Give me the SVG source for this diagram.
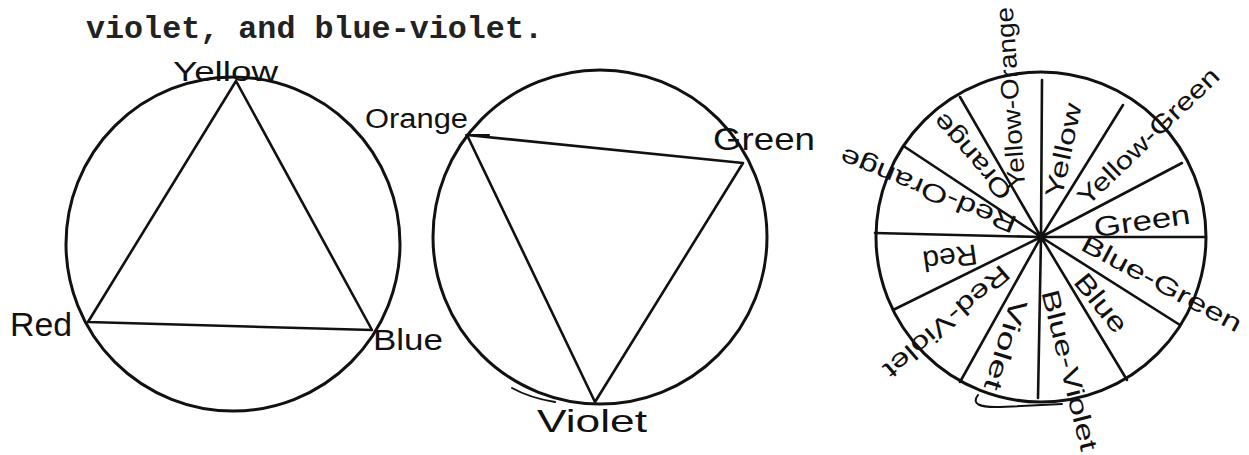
<svg xmlns="http://www.w3.org/2000/svg" width="1249" height="455" viewBox="0 0 1249 455">
<style>
.ln{fill:none;stroke:#111;stroke-width:2.6;stroke-linecap:round;stroke-linejoin:round}
.cir{fill:none;stroke:#111;stroke-width:3}
.hw{font-family:"Liberation Sans","DejaVu Sans",sans-serif;fill:#111;font-size:28px}
.wl{font-family:"Liberation Sans","DejaVu Sans",sans-serif;fill:#111;font-size:25px;text-anchor:middle;dominant-baseline:central}
.tt{font-family:"Liberation Mono","Courier New",monospace;fill:#222;font-size:31.5px;font-weight:bold}
</style>
<rect width="1249" height="455" fill="#fff"/>
<text class="tt" x="86" y="38" textLength="457" lengthAdjust="spacingAndGlyphs">violet, and blue-violet.</text>

<g id="primary-triad">
  <circle class="cir" cx="233" cy="244" r="167"/>
  <path class="ln" d="M236 81 L88 322 L372 330 Z"/>
  <text class="hw" x="173" y="81" textLength="105" lengthAdjust="spacingAndGlyphs">Yellow</text>
  <text class="hw" x="10" y="336" font-size="34" textLength="62" lengthAdjust="spacingAndGlyphs" style="font-size:34px">Red</text>
  <text class="hw" x="373" y="350" textLength="70" lengthAdjust="spacingAndGlyphs" style="font-size:30px">Blue</text>
</g>

<g id="secondary-triad">
  <circle class="cir" cx="600" cy="237" r="167"/>
  <path class="ln" d="M467 135 L743 163 L595 402 Z"/>
  <text class="hw" x="365" y="128" textLength="103" lengthAdjust="spacingAndGlyphs" style="font-size:27px">Orange</text>
  <path class="ln" d="M466 135 L489 135" style="stroke-width:2"/>
  <text class="hw" x="713" y="150" textLength="102" lengthAdjust="spacingAndGlyphs" style="font-size:32px">Green</text>
  <text class="hw" x="537" y="432" textLength="110" lengthAdjust="spacingAndGlyphs" style="font-size:32px">Violet</text>
  <path class="ln" d="M512 388 Q530 398 555 402" style="stroke-width:2"/>
</g>

<g id="color-wheel">
  <circle class="cir" cx="1041" cy="237" r="165"/>
  <path class="ln" d="M978 395 Q968 408 1000 407 L1062 404" style="stroke-width:2"/>
  <g id="spokes">
    <path class="ln" d="M1041 237 L1042 80 M1041 237 L1123 105 M1041 237 L1182 163 M1041 237 L1205 237 M1041 237 L1180 325 M1041 237 L1127 380 M1041 237 L1038 398 M1041 237 L960 382 M1041 237 L893 310 M1041 237 L875 233 M1041 237 L905 147 M1041 237 L960 97"/>
    <circle cx="1041" cy="237" r="4" fill="#111"/>
  </g>
  <text class="wl" transform="translate(1063 150) rotate(-78)" textLength="96" lengthAdjust="spacingAndGlyphs">Yellow</text>
  <text class="wl" transform="translate(1148 136) rotate(-44)" textLength="186" lengthAdjust="spacingAndGlyphs">Yellow-Green</text>
  <text class="wl" transform="translate(1142 221) rotate(-8)" textLength="97" lengthAdjust="spacingAndGlyphs" style="font-size:28px">Green</text>
  <text class="wl" transform="translate(1162 283) rotate(28)" textLength="178" lengthAdjust="spacingAndGlyphs">Blue-Green</text>
  <text class="wl" transform="translate(1101 303) rotate(51)" textLength="68" lengthAdjust="spacingAndGlyphs" style="font-size:27px">Blue</text>
  <text class="wl" transform="translate(1070 370) rotate(76)" textLength="165" lengthAdjust="spacingAndGlyphs">Blue-Violet</text>
  <text class="wl" transform="translate(1006 345) rotate(107)" textLength="94" lengthAdjust="spacingAndGlyphs">Violet</text>
  <text class="wl" transform="translate(947 322) rotate(139)" textLength="158" lengthAdjust="spacingAndGlyphs">Red-Violet</text>
  <text class="wl" transform="translate(950 258) rotate(172)" textLength="55" lengthAdjust="spacingAndGlyphs" style="font-size:29px">Red</text>
  <text class="wl" transform="translate(928 191) rotate(202)" textLength="188" lengthAdjust="spacingAndGlyphs">Red-Orange</text>
  <text class="wl" transform="translate(972 157) rotate(-131)" textLength="106" lengthAdjust="spacingAndGlyphs">Orange</text>
  <text class="wl" transform="translate(1010 98) rotate(-94)" textLength="182" lengthAdjust="spacingAndGlyphs">Yellow-Orange</text>
</g>
</svg>
